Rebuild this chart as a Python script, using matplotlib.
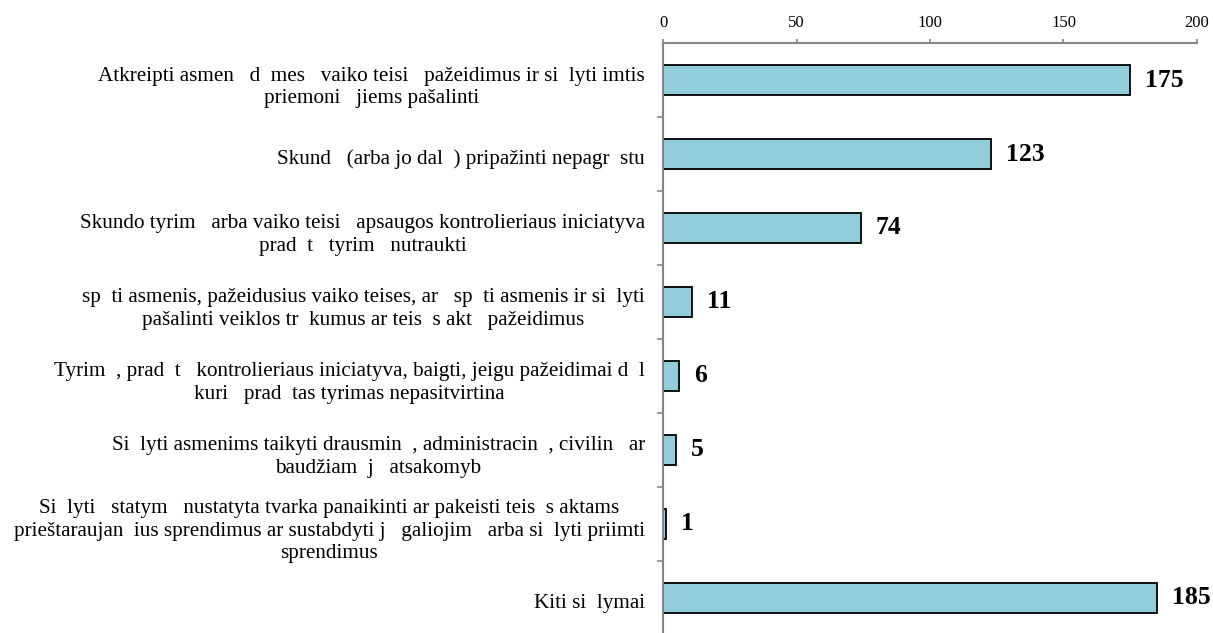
import matplotlib
matplotlib.use("Agg")
import matplotlib.pyplot as plt
import matplotlib.transforms as mtransforms
import numpy as np

# categories as they appear in the source; "_" marks a glyph the source font lacked
categories = [
    "Atkreipti asmen_ d_mes_ vaiko teisi_ pažeidimus ir si_lyti imtis\npriemoni_ jiems pašalinti",
    "Skund_ (arba jo dal_) pripažinti nepagr_stu",
    "Skundo tyrim_ arba vaiko teisi_ apsaugos kontrolieriaus iniciatyva\nprad_t_ tyrim_ nutraukti",
    "sp_ti asmenis, pažeidusius vaiko teises, ar _sp_ti asmenis ir si_lyti\npašalinti veiklos tr_kumus ar teis_s akt_ pažeidimus",
    "Tyrim_, prad_t_ kontrolieriaus iniciatyva, baigti, jeigu pažeidimai d_l\nkuri_ prad_tas tyrimas nepasitvirtina",
    "Si_lyti asmenims taikyti drausmin_, administracin_, civilin_ ar\nbaudžiam_j_ atsakomyb",
    "Si_lyti _statym_ nustatyta tvarka panaikinti ar pakeisti teis_s aktams\nprieštaraujan_ius sprendimus ar sustabdyti j_ galiojim_ arba si_lyti priimti\nsprendimus",
    "Kiti si_lymai",
]
values = [175, 123, 74, 11, 6, 5, 1, 185]
x_ticks = [0, 50, 100, 150, 200]

labels = [c.replace("_", "  ") for c in categories]

plt.rcParams['font.family'] = ['Liberation Serif', 'DejaVu Serif']

fig = plt.figure(figsize=(12.13, 6.33), dpi=100)
ax = fig.add_axes([0.5466, -0.003, 0.4402, 0.935])

y = np.arange(len(categories))
bars = ax.barh(y, values, height=0.4, color='#92CDDC', edgecolor='black', linewidth=1.3)

for bar, v in zip(bars, values):
    ax.text(bar.get_width() + 5.6, bar.get_y() + bar.get_height() / 2, str(v),
            va='center', ha='left', fontsize=18.5, fontweight='bold')

ax.set_xlim(0, 200)
ax.set_ylim(len(categories) - 0.5, -0.5)
ax.xaxis.tick_top()
ax.set_xticks(x_ticks)
ax.tick_params(axis='x', labelsize=12, length=3, width=1.2, color='#868686', pad=6)

ax.set_yticks(y)
ax.set_yticklabels(labels, fontsize=15.2, ha='right', multialignment='center',
                   linespacing=1.25)
ax.tick_params(axis='y', which='major', length=0, pad=13)
ax.set_yticks(np.arange(len(categories) - 1) + 0.5, minor=True)
ax.tick_params(axis='y', which='minor', length=4, width=1.2, color='#868686')

# nudge category labels down a little, as in the source
shift = mtransforms.ScaledTranslation(0, -3 / 100, fig.dpi_scale_trans)
for lbl in ax.get_yticklabels():
    lbl.set_transform(lbl.get_transform() + shift)

for s in ['right', 'bottom']:
    ax.spines[s].set_visible(False)
for s in ['left', 'top']:
    ax.spines[s].set_color('#868686')
    ax.spines[s].set_linewidth(1.5)

fig.savefig('out.png', dpi=100)
